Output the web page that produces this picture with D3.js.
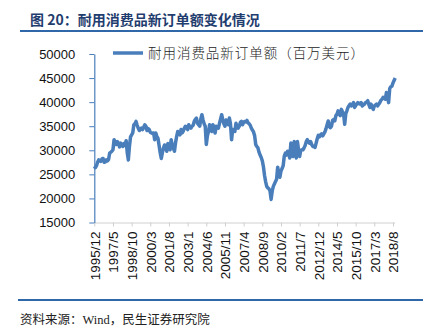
<!DOCTYPE html>
<html>
<head>
<meta charset="utf-8">
<script src="https://cdn.jsdelivr.net/npm/d3@7/dist/d3.min.js"></script>
<style>
  html, body { margin: 0; padding: 0; background: #fff; }
  svg { display: block; }
</style>
</head>
<body>
<svg id="chart" width="438" height="334"></svg>
<script>
// Monthly new orders for durable consumer goods, million USD, 1995/12 onward
const startMonth = [1995, 12];
const orders = [
  26700, 26400, 26800, 27500, 28000, 27800, 27700, 28200, 28300, 27500,
  27600, 28000, 27800, 28100, 29400, 29600, 29800, 30100, 32200, 31600,
  31200, 31800, 31400, 30700, 31500, 31200, 30800, 31400, 31000, 32000,
  29500, 28000, 30800, 32800, 33200, 33600, 35300, 35500, 36000, 35200,
  34600, 34100, 34500, 34600, 34300, 34800, 35300, 35000, 34100, 34500,
  34300, 33700, 33600, 33500, 33600, 32200, 33600, 32900, 32500, 31000,
  29500, 28300, 29500, 30500, 31100, 30500, 29800, 31400, 30600, 30100,
  32200, 31000, 30400, 29800, 31600, 32900, 33900, 33500, 33200, 34300,
  33600, 34000, 34600, 35000, 34800, 34300, 35300, 34900, 34600, 35000,
  35200, 36000, 36400, 36700, 35600, 35300, 35000, 36500, 37400, 36300,
  35500, 35000, 31200, 33000, 33900, 35300, 34600, 33900, 35300, 34500,
  33600, 35000, 34800, 34600, 35600, 36500, 37400, 36300, 35500, 35000,
  36300, 35800, 35300, 36700, 35500, 32200, 34300, 34000, 33900, 35600,
  35000, 34600, 35000, 35800, 36000, 35300, 35800, 36000, 35900, 36200,
  35700, 35500, 35200, 34600, 34200, 33800, 33000, 31200, 30800, 30500,
  29600, 29000, 28500, 27800, 26600, 24800, 23500, 22500, 22200, 22000,
  21600, 19800, 21500, 22500, 23000, 23500, 24000, 26500, 25000, 24400,
  25700, 26200, 26800, 28800, 29400, 29000, 29800, 29300, 28400, 31500,
  29800, 28700, 31800, 30200, 28400, 31800, 30000, 28700, 30000, 30100,
  30100, 30500, 31000, 31800, 32200, 31700, 31500, 31800, 31200, 30800,
  30800, 30600, 31500, 32400, 33100, 32800, 33200, 33400, 33000, 33400,
  33800, 34500, 35300, 36100, 34900, 34700, 35000, 36200, 36400, 36100,
  37200, 37500, 38200, 37500, 37200, 38500, 38000, 37500, 35400, 37600,
  38200, 38900, 39300, 39600, 39200, 39500, 39900, 38900, 39300, 39600,
  39900, 39700, 39600, 39900, 39200, 39400, 39600, 39900, 40000, 40300,
  39500, 38900, 39600, 39000, 38500, 39200, 39400, 39600, 39200, 39600,
  39900, 40400, 40600, 41000, 40800, 40600, 42000, 41200, 39900, 42800,
  43200, 43300, 44000, 44500, 45000
];

// Month labels for each observation
const months = orders.map((_, i) => {
  const m = startMonth[1] - 1 + i;
  return (startMonth[0] + Math.floor(m / 12)) + "/" + (m % 12 + 1);
});

const xTickLabels = [
  "1995/12", "1997/5", "1998/10", "2000/3", "2001/8", "2003/1", "2004/6",
  "2005/11", "2007/4", "2008/9", "2010/2", "2011/7", "2012/12", "2014/5",
  "2015/10", "2017/3", "2018/8"
];
const yTicks = [15000, 20000, 25000, 30000, 35000, 40000, 45000, 50000];

const titleText = "图 20：耐用消费品新订单额变化情况";
const legendText = "耐用消费品新订单额（百万美元）";
const sourceText = "资料来源：Wind，民生证券研究院";

const svg = d3.select("#chart");
const plotLeft = 94.3, plotRight = 395.2, plotTop = 54, plotBottom = 222.5;

const x = d3.scalePoint().domain(months).range([plotLeft, plotRight]);
const y = d3.scaleLinear().domain([15000, 50000]).range([plotBottom, plotTop]);

// Title and rules
svg.append("text")
  .attr("x", 30).attr("y", 25)
  .attr("font-family", "'Noto Sans CJK SC', sans-serif")
  .attr("font-weight", "bold")
  .attr("font-size", 14)
  .attr("fill", "#1f3d6e")
  .text(titleText);

svg.append("line")
  .attr("x1", 20).attr("x2", 423).attr("y1", 31).attr("y2", 31)
  .attr("stroke", "#2f67a8").attr("stroke-width", 2);

svg.append("line")
  .attr("x1", 18).attr("x2", 423).attr("y1", 300).attr("y2", 300)
  .attr("stroke", "#2f67a8").attr("stroke-width", 2);

svg.append("text")
  .attr("x", 20).attr("y", 324)
  .attr("font-family", "'Liberation Serif', 'Noto Sans CJK SC', serif")
  .attr("font-size", 12.5)
  .attr("fill", "#222")
  .text(sourceText);

// X axis
const xAxis = d3.axisBottom(x)
  .tickValues(xTickLabels)
  .tickSize(4)
  .tickSizeOuter(0);
const gx = svg.append("g")
  .attr("transform", `translate(0,${plotBottom})`)
  .call(xAxis);
gx.select(".domain").attr("stroke", "#d0d0d0").attr("d", `M${plotLeft},0.5H${plotRight}`);
gx.selectAll(".tick line").attr("stroke", "#d0d0d0");
gx.selectAll(".tick text")
  .attr("font-family", "'Liberation Sans', Arial, sans-serif")
  .attr("font-size", 13.5)
  .attr("fill", "#111")
  .attr("text-anchor", "end")
  .attr("transform", "rotate(-90)")
  .attr("x", -9)
  .attr("y", 0)
  .attr("dy", "0.35em");

// Y axis
const yAxis = d3.axisLeft(y)
  .tickValues(yTicks)
  .tickFormat(d3.format("d"))
  .tickSize(5)
  .tickSizeOuter(0);
const gy = svg.append("g")
  .attr("transform", `translate(${plotLeft},0)`)
  .call(yAxis);
gy.select(".domain").attr("stroke", "#4a7ebb").attr("stroke-width", 1.2);
gy.selectAll(".tick line").attr("stroke", "#4a7ebb");
gy.selectAll(".tick text")
  .attr("font-family", "'Liberation Sans', Arial, sans-serif")
  .attr("font-size", 13)
  .attr("fill", "#111")
  .attr("x", -19);

// Series line
const line = d3.line()
  .x((d, i) => x(months[i]))
  .y(d => y(d));
svg.append("path")
  .datum(orders)
  .attr("fill", "none")
  .attr("stroke", "#4a7ebb")
  .attr("stroke-width", 3.5)
  .attr("stroke-linejoin", "round")
  .attr("d", line);

// Legend
svg.append("line")
  .attr("x1", 113).attr("x2", 143).attr("y1", 53).attr("y2", 53)
  .attr("stroke", "#4a7ebb").attr("stroke-width", 3.5);
svg.append("text")
  .attr("x", 148).attr("y", 58)
  .attr("font-family", "'Noto Sans CJK SC', sans-serif")
  .attr("font-weight", 300)
  .attr("font-size", 13.5)
  .attr("fill", "#222")
  .attr("textLength", 216)
  .attr("lengthAdjust", "spacing")
  .text(legendText);
</script>
</body>
</html>
